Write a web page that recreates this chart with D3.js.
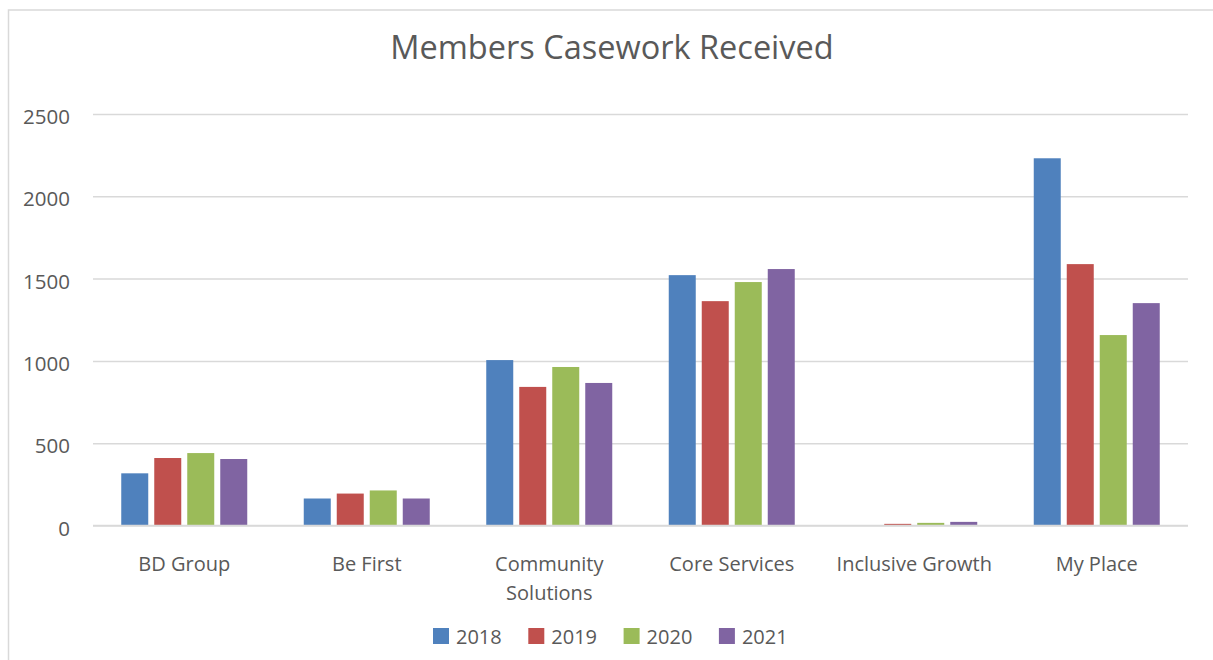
<!DOCTYPE html>
<html>
<head>
<meta charset="utf-8">
<script src="https://cdn.jsdelivr.net/npm/d3@7"></script>
<style>
  html, body { margin: 0; padding: 0; background: #fff; }
  svg { display: block; font-family: "Open Sans", "Noto Sans", sans-serif; }
</style>
</head>
<body>
<svg id="chart" width="1213" height="660"></svg>
<script>
// Casework received per service area, by year
const categories = ["BD Group", "Be First", "Community Solutions", "Core Services", "Inclusive Growth", "My Place"];
const years = ["2018", "2019", "2020", "2021"];
const values2018 = [317, 164, 1005, 1521, 0, 2231];
const values2019 = [410, 194, 842, 1363, 10, 1588];
const values2020 = [440, 213, 963, 1479, 16, 1157];
const values2021 = [404, 164, 866, 1558, 22, 1351];
const yTicks = [0, 500, 1000, 1500, 2000, 2500];
const colors = ["#4f81bd", "#c0504d", "#9bbb59", "#8064a2"];

const seriesValues = [values2018, values2019, values2020, values2021];
const rows = categories.map((c, i) => ({
  category: c,
  values: years.map((y, k) => ({ year: y, value: seriesValues[k][i] }))
}));

const svg = d3.select("#chart");
const W = 1213, H = 660;
const plot = { left: 93, right: 1188, top: 114, bottom: 525.5 };
const textColor = "#595959";
const gridColor = "#d9d9d9";

// chart frame
svg.append("rect")
  .attr("x", 8.5).attr("y", 10)
  .attr("width", W + 10).attr("height", H + 10)
  .attr("fill", "#fff")
  .attr("stroke", gridColor).attr("stroke-width", 1.5);

// title
svg.append("text")
  .attr("x", 612).attr("y", 59)
  .attr("text-anchor", "middle")
  .attr("fill", textColor)
  .style("font-size", "32.5px")
  .text("Members Casework Received");

const y = d3.scaleLinear().domain([0, 2500]).range([plot.bottom, plot.top]);
const x0 = d3.scaleBand().domain(categories).range([plot.left, plot.right]).padding(0);
const groupW = 126;
const x1 = d3.scaleBand().domain(years)
  .range([(x0.bandwidth() - groupW) / 2, (x0.bandwidth() + groupW) / 2])
  .paddingInner(6 / 33).paddingOuter(0);

// gridlines and value labels
const yAxis = d3.axisLeft(y).tickValues(yTicks).tickFormat(d3.format("d"))
  .tickSize(-(plot.right - plot.left)).tickPadding(23);
const gy = svg.append("g").attr("transform", `translate(${plot.left},0)`).call(yAxis);
gy.select(".domain").remove();
gy.selectAll(".tick line").attr("stroke", gridColor).attr("stroke-width", 1.5);
gy.selectAll(".tick text")
  .attr("fill", textColor)
  .attr("y", 3)
  .style("font-size", "20.5px")
  .style("font-family", "'Open Sans', sans-serif");

// bars
const groups = svg.append("g").selectAll("g")
  .data(rows).join("g")
  .attr("transform", d => `translate(${x0(d.category)},0)`);
groups.selectAll("rect")
  .data(d => d.values).join("rect")
  .attr("x", d => x1(d.year))
  .attr("width", x1.bandwidth())
  .attr("y", d => y(d.value))
  .attr("height", d => y(0) - y(d.value))
  .attr("fill", (d, i) => colors[i]);

// baseline drawn over bar bottoms
svg.append("line")
  .attr("x1", plot.left).attr("x2", plot.right)
  .attr("y1", y(0)).attr("y2", y(0))
  .attr("stroke", gridColor).attr("stroke-width", 1.5);

// category labels (wrapped to the band width)
const xAxis = d3.axisBottom(x0).tickSize(0).tickPadding(0);
const gx = svg.append("g").attr("transform", `translate(0,${plot.bottom})`).call(xAxis);
gx.select(".domain").remove();
gx.selectAll(".tick text").each(function(d) {
  const t = d3.select(this);
  t.text(null)
    .attr("fill", textColor)
    .attr("y", 0).attr("dy", null)
    .style("font-size", "20px")
    .style("font-family", "'Open Sans', sans-serif");
  const lines = d === "Community Solutions" ? ["Community", "Solutions"] : [d];
  lines.forEach((ln, i) => {
    t.append("tspan").attr("x", 0).attr("y", 45 + i * 29).text(ln);
  });
});

// legend
const legend = svg.append("g").attr("transform", "translate(433,628)");
const item = legend.selectAll("g").data(years).join("g")
  .attr("transform", (d, i) => `translate(${i * 95.3},0)`);
item.append("rect").attr("width", 16).attr("height", 16).attr("fill", (d, i) => colors[i]);
item.append("text")
  .attr("x", 23).attr("y", 16)
  .attr("fill", textColor)
  .style("font-size", "20px")
  .text(d => d);
</script>
</body>
</html>
